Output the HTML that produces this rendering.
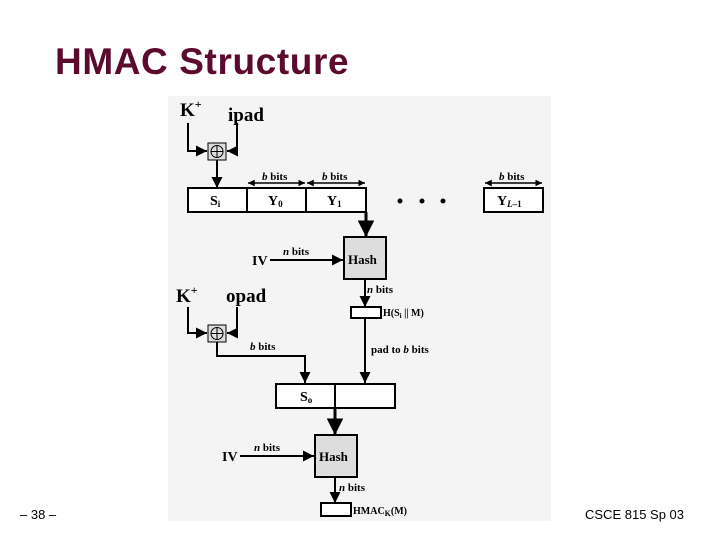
<!DOCTYPE html>
<html><head><style>
body{margin:0;width:720px;height:540px;background:#fff;position:relative;overflow:hidden;font-family:"Liberation Sans",sans-serif}
.t{position:absolute;left:55px;top:41px;font-size:37px;font-weight:bold;color:#5c0a2e;letter-spacing:0.6px}
.f{position:absolute;top:507px;font-size:13px;color:#000}
svg{position:absolute;left:0;top:0}
</style></head><body>
<div class="t">HMAC Structure</div>
<div class="f" style="left:20px">– 38 –</div>
<div class="f" style="left:585px">CSCE 815 Sp 03</div>
<svg width="720" height="540" font-family="Liberation Serif,serif" font-weight="bold">
<defs><marker id="a" viewBox="0 0 10 10" refX="10" refY="5" markerWidth="5.5" markerHeight="5.5" orient="auto"><path d="M0,0L10,5L0,10z" fill="#000"/></marker>
<marker id="b" viewBox="0 0 10 10" refX="10" refY="5" markerWidth="4.5" markerHeight="4.5" orient="auto-start-reverse"><path d="M0,0L10,5L0,10z" fill="#000"/></marker></defs>
<rect x="168" y="96" width="383" height="425" fill="#f4f4f4"/>
<g stroke="#000" stroke-width="2" fill="none">
<path d="M188,123V151H207" marker-end="url(#a)"/>
<path d="M237,123V151H227" marker-end="url(#a)"/>
<path d="M217,160V188" marker-end="url(#a)"/>
<path d="M366,212V237" stroke-width="3" marker-end="url(#a)"/>
<path d="M270,260H343" marker-end="url(#a)"/>
<path d="M365,279V307" marker-end="url(#a)"/>
<path d="M188,307V333H207" marker-end="url(#a)"/>
<path d="M237,307V333H227" marker-end="url(#a)"/>
<path d="M217,342V356H305V383" marker-end="url(#a)"/>
<path d="M365,318V383" marker-end="url(#a)"/>
<path d="M335,408V435" stroke-width="3" marker-end="url(#a)"/>
<path d="M240,456H314" marker-end="url(#a)"/>
<path d="M335,477V503" marker-end="url(#a)"/>
<g stroke-width="1.5"><path d="M248,183H305" marker-start="url(#b)" marker-end="url(#b)"/>
<path d="M307,183H365" marker-start="url(#b)" marker-end="url(#b)"/>
<path d="M485,183H542" marker-start="url(#b)" marker-end="url(#b)"/></g>
<rect x="188" y="188" width="178" height="24" fill="#fff"/>
<path d="M247,188V212M306,188V212"/>
<rect x="484" y="188" width="59" height="24" fill="#fff"/>
<rect x="344" y="237" width="42" height="42" fill="#ddd"/>
<rect x="351" y="307" width="30" height="11" fill="#fff"/>
<rect x="276" y="384" width="119" height="24" fill="#fff"/>
<path d="M335,384V408"/>
<rect x="315" y="435" width="42" height="42" fill="#ddd"/>
<rect x="321" y="503" width="30" height="13" fill="#fff"/>
</g>
<g stroke="#000" stroke-width="1" fill="#ddd">
<rect x="208" y="143" width="18" height="17"/><circle cx="217" cy="151.5" r="6" fill="none"/><path d="M211,151.5H223M217,145.5V157.5"/>
<rect x="208" y="325" width="18" height="17"/><circle cx="217" cy="333.5" r="6" fill="none"/><path d="M211,333.5H223M217,327.5V339.5"/>
</g>
<g fill="#000">
<circle cx="400" cy="201" r="2.5"/><circle cx="422" cy="201" r="2.5"/><circle cx="443" cy="201" r="2.5"/>
<text x="180" y="116" font-size="19">K<tspan font-size="12" dy="-8">+</tspan></text>
<text x="228" y="121" font-size="19">ipad</text>
<text x="176" y="302" font-size="19">K<tspan font-size="12" dy="-8">+</tspan></text>
<text x="226" y="302" font-size="19">opad</text>
<g font-size="11"><text x="262" y="180"><tspan font-style="italic">b</tspan> bits</text>
<text x="322" y="180"><tspan font-style="italic">b</tspan> bits</text>
<text x="499" y="180"><tspan font-style="italic">b</tspan> bits</text>
<text x="283" y="255"><tspan font-style="italic">n</tspan> bits</text>
<text x="367" y="293"><tspan font-style="italic">n</tspan> bits</text>
<text x="250" y="350"><tspan font-style="italic">b</tspan> bits</text>
<text x="371" y="353">pad to <tspan font-style="italic">b</tspan> bits</text>
<text x="254" y="451"><tspan font-style="italic">n</tspan> bits</text>
<text x="339" y="491"><tspan font-style="italic">n</tspan> bits</text>
<text x="383" y="316" font-size="10">H(S<tspan font-size="7" dy="2">i</tspan><tspan dy="-2"> || M)</tspan></text>
<text x="353" y="514" font-size="10">HMAC<tspan font-size="8" dy="2">K</tspan><tspan dy="-2">(M)</tspan></text></g>
<g font-size="14"><text x="210" y="205">S<tspan font-size="9" dy="2">i</tspan></text>
<text x="268" y="205">Y<tspan font-size="9" dy="2">0</tspan></text>
<text x="327" y="205">Y<tspan font-size="9" dy="2">1</tspan></text>
<text x="497" y="205">Y<tspan font-size="9" dy="2" font-style="italic">L</tspan><tspan font-size="9">–1</tspan></text>
<text x="300" y="401">S<tspan font-size="9" dy="2">o</tspan></text>
<text x="252" y="265">IV</text><text x="222" y="461">IV</text>
<text x="348" y="264" font-size="13">Hash</text><text x="319" y="461" font-size="13">Hash</text></g>
</g>
</svg>
</body></html>
